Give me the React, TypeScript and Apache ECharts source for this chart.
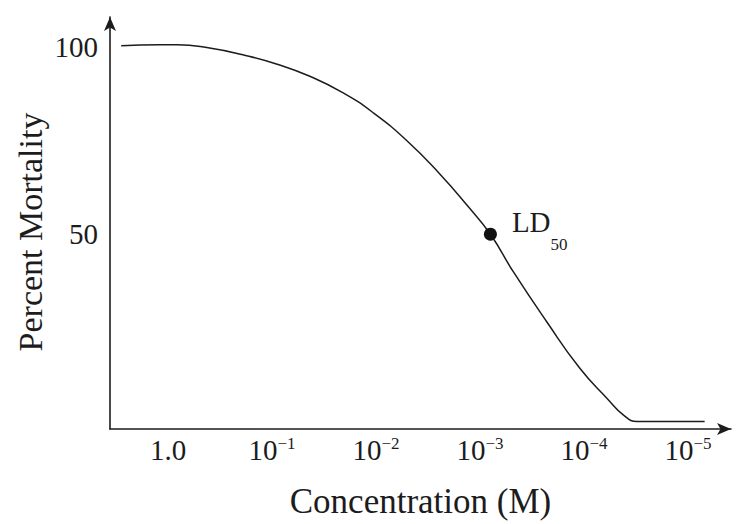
import React, { useEffect, useRef } from "react";
import * as echarts from "echarts";

// Concentration positions: 0 -> 1.0 M, 1 -> 10^-1 M, ... 5 -> 10^-5 M
const tickPositions = [0, 1, 2, 3, 4, 5];
const tickBases = ["1.0", "10", "10", "10", "10", "10"];
const tickExponents = ["", "−1", "−2", "−3", "−4", "−5"];

const yTickValues = [50, 100];

// Dose-response curve (x = decade position, y = percent mortality)
const curveX = [-0.45, -0.08, 0.09, 0.4, 0.72, 1.05, 1.37, 1.68, 1.97, 2.3, 2.62, 2.88, 3.1, 3.32, 3.64, 3.96, 4.22, 4.38, 4.51, 4.64, 5.16];
const curveY = [100.3, 100.6, 100.6, 99.7, 97.9, 95.4, 92.1, 87.8, 82.5, 74.9, 65.9, 57.6, 50, 40.0, 26.7, 14.2, 6.2, 1.7, 0, 0, 0];

const ldX = [3.1];
const ldY = [50];

const FONT = "Liberation Serif";
const INK = "#1c1c1c";

export default function App() {
  const ref = useRef<HTMLDivElement>(null);
  useEffect(() => {
    if (!ref.current) return;
    const chart = echarts.init(ref.current, null, { renderer: "svg" });
    const curve = curveX.map((x, i) => [x, curveY[i]]);
    const ld = ldX.map((x, i) => [x, ldY[i]]);
    chart.setOption({
      animation: false,
      backgroundColor: "#ffffff",
      grid: { left: 110, right: 8, top: 17, bottom: 93 },
      graphic: [
        {
          type: "text",
          x: 30,
          y: 232,
          rotation: Math.PI / 2,
          style: {
            text: "Percent Mortality",
            fontFamily: FONT,
            fontSize: 34,
            fill: INK,
            align: "center",
            verticalAlign: "middle",
          },
        },
      ],
      xAxis: {
        type: "value",
        min: -0.5577,
        max: 5.4135,
        name: "Concentration (M)",
        nameLocation: "middle",
        nameGap: 55,
        nameTextStyle: { fontFamily: FONT, fontSize: 35, color: INK },
        axisLine: {
          onZero: false,
          lineStyle: { color: INK, width: 1.6 },
          symbol: ["none", "arrow"],
          symbolSize: [9, 14],
        },
        axisTick: { show: false },
        splitLine: { show: false },
        axisLabel: {
          customValues: tickPositions,
          margin: 6,
          formatter: (v: number) => {
            const i = tickPositions.indexOf(Math.round(v));
            if (i < 0) return "";
            return tickExponents[i]
              ? `{b|${tickBases[i]}}{s|${tickExponents[i]}}`
              : `{b|${tickBases[i]}}`;
          },
          rich: {
            b: { fontFamily: FONT, fontSize: 29, color: INK, verticalAlign: "bottom" },
            s: { fontFamily: FONT, fontSize: 17, color: INK, verticalAlign: "top" },
          },
        },
      },
      yAxis: {
        type: "value",
        min: -2,
        max: 108,
        axisLine: {
          onZero: false,
          lineStyle: { color: INK, width: 1.6 },
          symbol: ["none", "arrow"],
          symbolSize: [9, 14],
        },
        axisTick: { show: false },
        splitLine: { show: false },
        axisLabel: {
          customValues: yTickValues,
          margin: 12,
          fontFamily: FONT,
          fontSize: 29,
          color: INK,
        },
      },
      series: [
        {
          type: "line",
          data: curve,
          smooth: 0.5,
          showSymbol: false,
          lineStyle: { color: INK, width: 1.5 },
          z: 2,
        },
        {
          type: "scatter",
          data: ld,
          symbol: "circle",
          symbolSize: 13,
          itemStyle: { color: "#111", opacity: 1 },
          z: 3,
          label: {
            show: true,
            position: "right",
            distance: 15,
            offset: [0, -4],
            formatter: "{a|LD}{c|50}",
            rich: {
              a: { fontFamily: FONT, fontSize: 29, color: INK, verticalAlign: "top" },
              c: { fontFamily: FONT, fontSize: 17, color: INK, verticalAlign: "top", padding: [28, 0, 0, 0] },
            },
          },
        },
      ],
    });
    return () => chart.dispose();
  }, []);
  return (
    <div
      ref={ref}
      style={{ position: "fixed", left: 0, top: 0, width: 739, height: 524 }}
    />
  );
}
